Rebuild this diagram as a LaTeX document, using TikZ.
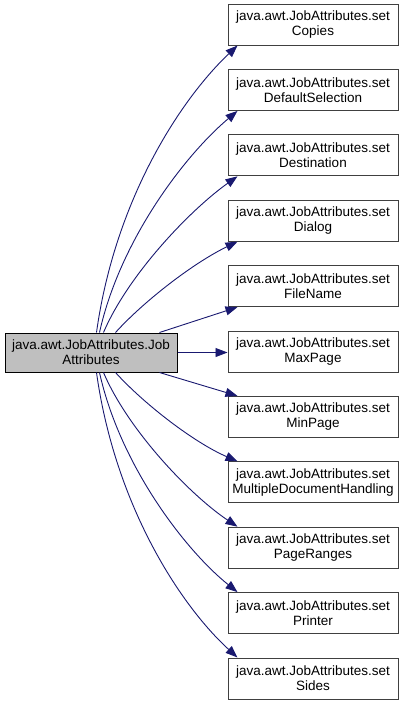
\documentclass[tikz,border=0pt]{standalone}
\usepackage{fontspec}
\setmainfont{Liberation Sans}
\usetikzlibrary{arrows.meta}
\definecolor{edgeblue}{HTML}{191970}
\definecolor{boxgray}{HTML}{BFBFBF}
\definecolor{boxline}{HTML}{404040}
\begin{document}
\begin{tikzpicture}[x=1pt,y=-1pt,
  every node/.style={font=\fontsize{13.5}{15}\selectfont, align=center, inner sep=0pt},
  fbox/.style={draw=boxline, line width=1pt, fill=white, minimum width=170pt, minimum height=41pt},
  mainbox/.style={draw=black, line width=1pt, fill=boxgray, minimum width=172pt, minimum height=39pt},
  edge/.style={draw=edgeblue, line width=0.9pt, -{Triangle[length=12pt,width=9pt]}}]
\useasboundingbox (0,0) rectangle (407,705);
\node[mainbox] (L) at (91,352.5) {java.awt.JobAttributes.Job\\Attributes};
\node[fbox] (c0) at (313,24.5) {java.awt.JobAttributes.set\\Copies};
\node[fbox] (c1) at (313,89.9) {java.awt.JobAttributes.set\\DefaultSelection};
\node[fbox] (c2) at (313,155.3) {java.awt.JobAttributes.set\\Destination};
\node[fbox] (c3) at (313,220.7) {java.awt.JobAttributes.set\\Dialog};
\node[fbox] (c4) at (313,286.1) {java.awt.JobAttributes.set\\FileName};
\node[fbox] (c5) at (313,351.5) {java.awt.JobAttributes.set\\MaxPage};
\node[fbox] (c6) at (313,416.9) {java.awt.JobAttributes.set\\MinPage};
\node[fbox] (c7) at (313,482.3) {java.awt.JobAttributes.set\\MultipleDocumentHandling};
\node[fbox] (c8) at (313,547.7) {java.awt.JobAttributes.set\\PageRanges};
\node[fbox] (c9) at (313,613.1) {java.awt.JobAttributes.set\\Printer};
\node[fbox] (c10) at (313,678.5) {java.awt.JobAttributes.set\\Sides};
% upper edges
\draw[edge] ([xshift=92pt]L.north west) .. controls (115,200) and (180,100) .. ([xshift=10pt]c0.south west);
\draw[edge] ([xshift=95pt]L.north west) .. controls (120,240) and (185,155) .. ([xshift=10pt]c1.south west);
\draw[edge] ([xshift=99pt]L.north west) .. controls (128,275) and (190,210) .. ([xshift=10pt]c2.south west);
\draw[edge] ([xshift=111pt]L.north west) .. controls (145,300) and (195,262) .. ([xshift=10pt]c3.south west);
\draw[edge] ([xshift=155pt]L.north west) -- ([xshift=10pt]c4.south west);
\draw[edge] (L.east) -- (L.east -| c5.west);
% lower edges
\draw[edge] ([xshift=155pt]L.south west) -- ([xshift=10pt]c6.north west);
\draw[edge] ([xshift=111pt]L.south west) .. controls (145,405) and (195,443) .. ([xshift=10pt]c7.north west);
\draw[edge] ([xshift=99pt]L.south west) .. controls (128,430) and (190,495) .. ([xshift=10pt]c8.north west);
\draw[edge] ([xshift=95pt]L.south west) .. controls (120,465) and (185,550) .. ([xshift=10pt]c9.north west);
\draw[edge] ([xshift=92pt]L.south west) .. controls (115,505) and (180,605) .. ([xshift=10pt]c10.north west);
\end{tikzpicture}
\end{document}
